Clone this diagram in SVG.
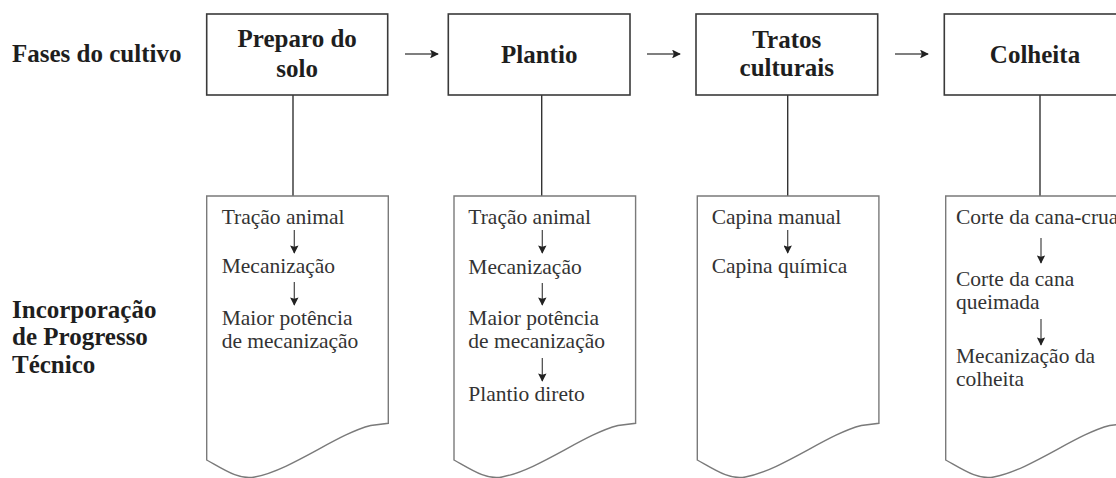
<svg xmlns="http://www.w3.org/2000/svg" width="1116" height="478" viewBox="0 0 1116 478">
<style>
.bg{fill:#fff}
.top{fill:#fff;stroke:#3a3a3a;stroke-width:1.6}
.doc{fill:#fff;stroke:#7a7a7a;stroke-width:1.4}
.conn{stroke:#333;stroke-width:1.4;fill:none}
.harr{stroke:#555;stroke-width:1.6;fill:none;marker-end:url(#ah)}
.varr{stroke:#444;stroke-width:1.2;fill:none;marker-end:url(#av)}
.title{font-family:"Liberation Serif","Times New Roman",serif;font-weight:bold;font-size:25px;fill:#1e1e1e;text-anchor:middle}
.lab{font-family:"Liberation Serif","Times New Roman",serif;font-weight:bold;font-size:25px;fill:#1e1e1e}
.body{font-family:"Liberation Serif","Times New Roman",serif;font-size:21.5px;fill:#333}
</style>
<defs>
<marker id="ah" viewBox="0 0 10 10" refX="9" refY="5" markerWidth="6.5" markerHeight="5.5" markerUnits="strokeWidth" orient="auto"><path d="M0,0 L10,5 L0,10 L2,5 Z" fill="#222"/></marker>
<marker id="av" viewBox="0 0 10 10" refX="9" refY="5" markerWidth="8.5" markerHeight="7" markerUnits="strokeWidth" orient="auto"><path d="M0,0 L10,5 L0,10 L1.5,5 Z" fill="#222"/></marker>
<path id="docshape" d="M0,196 H181.6 V423.3 L164,425.5 C130,434 85,470 48,477 C32,480 18,470 0,460 Z"/>
</defs>
<rect class="bg" x="0" y="0" width="1116" height="478"/>

<g id="labels">
<text class="lab" x="12" y="62">Fases do cultivo</text>
<text class="lab" x="12" y="318">Incorporação</text>
<text class="lab" x="12" y="345">de Progresso</text>
<text class="lab" x="12" y="373">Técnico</text>
</g>

<g id="connectors">
<line class="conn" x1="293" y1="95" x2="293" y2="196"/>
<line class="conn" x1="541.7" y1="95" x2="541.7" y2="196"/>
<line class="conn" x1="787.7" y1="95" x2="787.7" y2="196"/>
<line class="conn" x1="1040" y1="95" x2="1040" y2="196"/>
<line class="harr" x1="405" y1="54" x2="438" y2="54"/>
<line class="harr" x1="647" y1="54" x2="680" y2="54"/>
<line class="harr" x1="895" y1="54" x2="928" y2="54"/>
</g>

<g id="phase-preparo">
<rect class="top" x="206.7" y="14" width="181" height="81"/>
<text class="title" x="297.2" y="47">Preparo do</text>
<text class="title" x="297.2" y="77">solo</text>
</g>
<g id="phase-plantio">
<rect class="top" x="448.3" y="14" width="181.7" height="81"/>
<text class="title" x="539.2" y="63">Plantio</text>
</g>
<g id="phase-tratos">
<rect class="top" x="696" y="14" width="181.7" height="81"/>
<text class="title" x="786.8" y="48">Tratos</text>
<text class="title" x="786.8" y="76">culturais</text>
</g>
<g id="phase-colheita">
<rect class="top" x="944.3" y="14" width="181" height="81"/>
<text class="title" x="1035" y="63">Colheita</text>
</g>

<g id="prog-preparo">
<use href="#docshape" class="doc" transform="translate(206.7,0)"/>
<text class="body" x="221.7" y="224">Tração animal</text>
<line class="varr" x1="294.3" y1="230" x2="294.3" y2="253"/>
<text class="body" x="221.7" y="273">Mecanização</text>
<line class="varr" x1="294.3" y1="282" x2="294.3" y2="305"/>
<text class="body" x="221.7" y="325">Maior potência</text>
<text class="body" x="221.7" y="348">de mecanização</text>
</g>
<g id="prog-plantio">
<use href="#docshape" class="doc" transform="translate(454,0)"/>
<text class="body" x="468.3" y="224">Tração animal</text>
<line class="varr" x1="542.3" y1="230" x2="542.3" y2="253"/>
<text class="body" x="468.3" y="274">Mecanização</text>
<line class="varr" x1="542.3" y1="283" x2="542.3" y2="305"/>
<text class="body" x="468.3" y="325">Maior potência</text>
<text class="body" x="468.3" y="348">de mecanização</text>
<line class="varr" x1="542.3" y1="358" x2="542.3" y2="381"/>
<text class="body" x="468.3" y="401">Plantio direto</text>
</g>
<g id="prog-tratos">
<use href="#docshape" class="doc" transform="translate(697.3,0)"/>
<text class="body" x="711.7" y="224">Capina manual</text>
<line class="varr" x1="787.7" y1="230" x2="787.7" y2="253"/>
<text class="body" x="711.7" y="273">Capina química</text>
</g>
<g id="prog-colheita">
<use href="#docshape" class="doc" transform="translate(945.7,0)"/>
<text class="body" x="956" y="224">Corte da cana-crua</text>
<line class="varr" x1="1041" y1="238" x2="1041" y2="263"/>
<text class="body" x="956" y="286">Corte da cana</text>
<text class="body" x="956" y="309">queimada</text>
<line class="varr" x1="1041" y1="319" x2="1041" y2="345"/>
<text class="body" x="956" y="363">Mecanização da</text>
<text class="body" x="956" y="386">colheita</text>
</g>
</svg>
